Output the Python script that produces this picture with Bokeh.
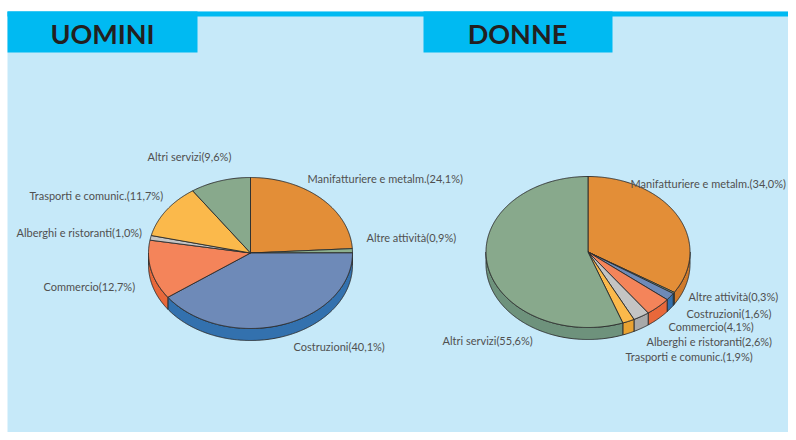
import numpy as np
from bokeh.plotting import figure
from bokeh.models import Range1d, ColumnDataSource
from bokeh.core.properties import value
from bokeh.embed import file_html
from bokeh.resources import INLINE

# ---------------- data ----------------
categories = ["Manifatturiere e metalm.", "Altre attività", "Costruzioni", "Commercio",
              "Alberghi e ristoranti", "Trasporti e comunic.", "Altri servizi"]
uomini = [24.1, 0.9, 40.1, 12.7, 1.0, 11.7, 9.6]
donne = [34.0, 0.3, 1.6, 4.1, 2.6, 1.9, 55.6]
titles = ["UOMINI", "DONNE"]

# ---------------- styles ----------------
face_colors = ["#E38E37", "#8DB08F", "#6E8AB8", "#F4845A", "#C4C4C4", "#FBB94B", "#88A98C"]
side_colors = ["#D07A2A", "#6F9275", "#3371AE", "#E8683A", "#A9A9A9", "#E9A232", "#6E927C"]

# label anchor positions (left x, middle y) in picture pixels
u_label_pos = [(307, 178), (366, 237), (293, 346), (43, 286), (16, 232), (29, 195), (147, 156)]
d_label_pos = [(630, 183), (688, 296), (686, 313), (668, 326), (646, 341), (625, 356), (442, 340)]

W, H = 788, 432
p = figure(width=W, height=H, x_range=Range1d(0, W), y_range=Range1d(H, 0),
           output_backend="svg", toolbar_location=None, min_border=0)
p.axis.visible = False
p.grid.visible = False
p.outline_line_color = None
p.background_fill_color = "white"
p.border_fill_color = "white"

# background panel, stripe and title boxes
p.quad(left=7, right=W, top=11, bottom=H, fill_color="#C6E9F9", line_color=None)
p.quad(left=7, right=W, top=11, bottom=16, fill_color="#00BAF2", line_color=None)
p.quad(left=[7, 423], right=[197, 612], top=[11, 11], bottom=[52, 52],
       fill_color="#00BAF2", line_color=None)
p.text(x=[102, 517], y=[33, 33], text=titles, text_font=value("Lato"),
       text_font_style="bold", text_font_size="27px", text_color="#231F20",
       text_align="center", text_baseline="middle")


def pie(values, cx, cy, rx, ry, depth):
    total = float(sum(values))
    cum = np.concatenate([[0.0], np.cumsum(values)]) / total * 2 * np.pi
    fxs, fys, sxs, sys_, scol = [], [], [], [], []
    for i, (a, b) in enumerate(zip(cum[:-1], cum[1:])):
        n = max(4, int((b - a) / 0.01))
        t = np.linspace(a, b, n)
        fxs.append(np.concatenate([[cx], cx + rx * np.sin(t)]))
        fys.append(np.concatenate([[cy], cy - ry * np.cos(t)]))
        lo, hi = max(a, np.pi / 2), min(b, 1.5 * np.pi)
        if hi > lo:
            ts = np.linspace(lo, hi, max(4, int((hi - lo) / 0.01)))
            sx = cx + rx * np.sin(ts)
            sy = cy - ry * np.cos(ts)
            sxs.append(np.concatenate([sx, sx[::-1]]))
            sys_.append(np.concatenate([sy, sy[::-1] + depth]))
            scol.append(side_colors[i])
    p.patches(xs=sxs, ys=sys_, fill_color=scol, line_color="#2B2B2B", line_width=0.9)
    p.patches(xs=fxs, ys=fys, fill_color=face_colors[:len(values)],
              line_color="#2B2B2B", line_width=0.9)


pie(uomini, 250, 252.5, 102, 75.5, 12)
pie(donne, 587.5, 251.5, 102, 75.5, 12)


def fmt(v):
    return ("%.1f" % v).replace(".", ",")


def labels(values, pos):
    src = ColumnDataSource(dict(
        x=[q[0] for q in pos], y=[q[1] for q in pos],
        t=["%s(%s%%)" % (c, fmt(v)) for c, v in zip(categories, values)]))
    p.text(x="x", y="y", text="t", source=src, text_font=value("Lato"),
           text_font_size="11px", text_color="#505050",
           text_align="left", text_baseline="middle")


labels(uomini, u_label_pos)
labels(donne, d_label_pos)

open("out.html", "w").write(file_html(p, INLINE))
